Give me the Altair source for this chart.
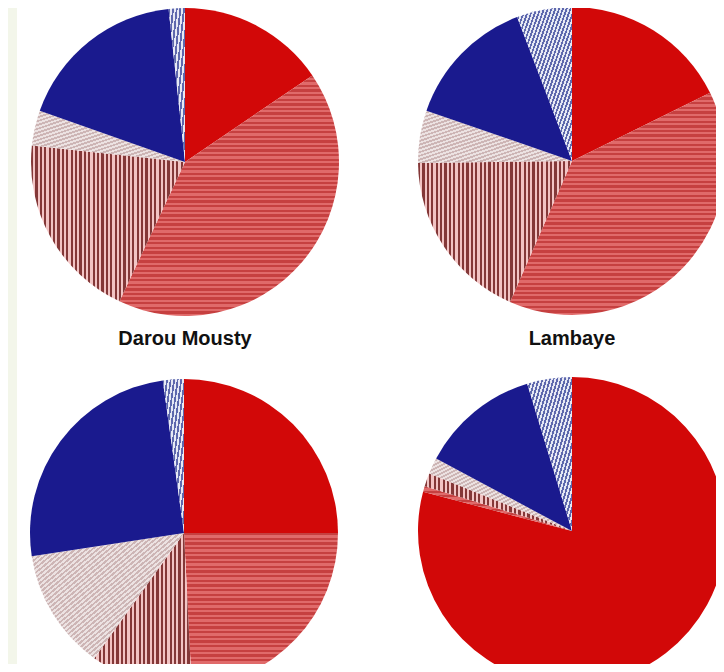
import math
import altair as alt
import pandas as pd

# ---- data (percent shares, clockwise from 12 o'clock) ----
pies = ["Darou Mousty", "Lambaye", "Pie 3", "Pie 4"]
pie_labels = ["Darou Mousty", "Lambaye", "", ""]
categories = ["A", "B", "C", "D", "E", "F"]
darou_mousty = [15.5, 41.5, 19.7, 3.7, 17.9, 1.7]
lambaye = [17.7, 38.9, 18.2, 5.5, 13.9, 5.8]
pie3 = [25.0, 24.2, 10.7, 12.7, 25.2, 2.2]
pie4 = [79.1, 0.6, 1.4, 1.7, 12.5, 4.7]
series = [darou_mousty, lambaye, pie3, pie4]

rows = []
for p, vals in zip(pies, series):
    for i, (c, v) in enumerate(zip(categories, vals)):
        rows.append({"pie": p, "cat": c, "order": i, "value": v})
df = pd.DataFrame(rows)

# ---- layout / style ----
W, H = 708, 656
R = 154
centers = [(177, 154), (564, 153), (176, 525), (564, 523)]
label_pos = [(177, 337), (564, 337)]

def stripes(c1, c2, n, x1, y1, x2, y2, ratio=0.5):
    n = max(1, int(round(n)))
    stops = []
    for i in range(n):
        a = i / n
        b = (i + ratio) / n
        e = (i + 1) / n
        stops += [(a, c1), (b, c1), (b, c2), (e, c2)]
    return {
        "gradient": "linear", "x1": x1, "y1": y1, "x2": x2, "y2": y2,
        "stops": [{"offset": round(min(max(o, 0), 1), 5), "color": c} for o, c in stops],
    }

def bbox(a0, a1):
    pts = [(0.0, 0.0)]
    angs = [a0, a1] + [k * math.pi / 2 for k in range(5) if a0 < k * math.pi / 2 < a1]
    steps = 40
    for s in range(steps + 1):
        angs.append(a0 + (a1 - a0) * s / steps)
    for a in angs:
        pts.append((R * math.sin(a), -R * math.cos(a)))
    xs = [p[0] for p in pts]
    ys = [p[1] for p in pts]
    return max(xs) - min(xs), max(ys) - min(ys)

def fill_for(cat, w, h):
    w = max(w, 1.0)
    h = max(h, 1.0)
    diag = 2 * w * h / math.sqrt(w * w + h * h)
    if cat == "A":
        return "#d20808"
    if cat == "B":  # wavy red texture
        return stripes("#c64040", "#e06a6a", h / 4.6, 0, 0, 0, 1, 0.5)
    if cat == "C":  # vertical dark red / pink stripes
        return stripes("#843838", "#f2c4c4", w / 4.4, 0, 0, 1, 0)
    if cat == "D":  # pale diagonal hatch
        return stripes("#cdb5b5", "#ece2e2", diag / 3.6, 0, 0, 1, 1)
    if cat == "E":
        return "#1a1a8e"
    return stripes("#5e68ad", "#e6e8f4", diag / 3.6, 0, 0, 1, 1)  # blue hatch

layers = []
# left page strip
layers.append(
    alt.Chart(pd.DataFrame({"k": [0]})).mark_rect(color="#f3f6ea").encode(
        x=alt.value(0), x2=alt.value(9), y=alt.value(0), y2=alt.value(H)
    )
)

for p, vals, (cx, cy) in zip(pies, series, centers):
    total = sum(vals)
    cum = 0.0
    for c, v in zip(categories, vals):
        a0 = 2 * math.pi * cum / total
        a1 = 2 * math.pi * (cum + v) / total
        cum += v
        w, h = bbox(a0, a1)
        layer = (
            alt.Chart(df)
            .transform_filter(alt.datum.pie == p)
            .transform_joinaggregate(total="sum(value)")
            .transform_window(cum="sum(value)", sort=[alt.SortField("order")], frame=[None, 0])
            .transform_calculate(
                start="(datum.cum - datum.value) / datum.total",
                end="datum.cum / datum.total",
            )
            .transform_filter(alt.datum.cat == c)
            .mark_arc(fill=fill_for(c, w, h), clip=True, strokeWidth=0)
            .encode(
                theta=alt.Theta("start:Q", scale=alt.Scale(domain=[0, 1]), stack=False),
                theta2="end:Q",
                x=alt.value(cx),
                y=alt.value(cy),
                radius=alt.value(R),
            )
        )
        layers.append(layer)

for lab, (lx, ly) in zip(pie_labels, label_pos):
    layers.append(
        alt.Chart(pd.DataFrame({"label": [lab]}))
        .mark_text(font="Liberation Sans", fontSize=20, fontWeight="bold",
                   color="#111111", align="center", baseline="alphabetic")
        .encode(text="label:N", x=alt.value(lx), y=alt.value(ly))
    )

chart = (
    alt.layer(*layers)
    .properties(width=W, height=H, padding=0, autosize="none", background="#ffffff")
    .configure_view(strokeWidth=0)
)

chart.save("out.html", embed_options={"renderer": "svg", "actions": False})
